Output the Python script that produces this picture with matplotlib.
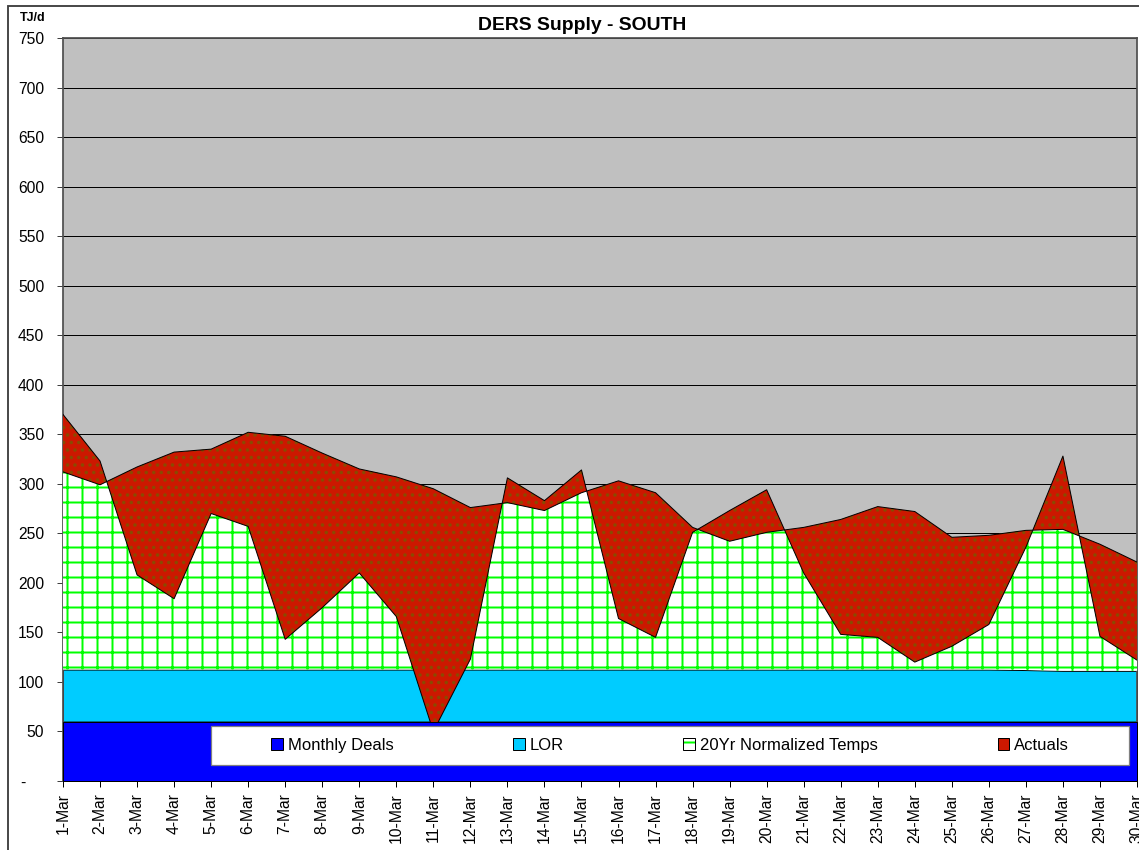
import matplotlib
matplotlib.use("Agg")
import matplotlib.pyplot as plt
from matplotlib.patches import Patch, Rectangle
from matplotlib.legend_handler import HandlerTuple

plt.rcParams['font.family'] = ['Liberation Sans', 'DejaVu Sans']
plt.rcParams['hatch.linewidth'] = 1.6

days = ["1-Mar", "2-Mar", "3-Mar", "4-Mar", "5-Mar", "6-Mar", "7-Mar", "8-Mar", "9-Mar", "10-Mar",
        "11-Mar", "12-Mar", "13-Mar", "14-Mar", "15-Mar", "16-Mar", "17-Mar", "18-Mar", "19-Mar", "20-Mar",
        "21-Mar", "22-Mar", "23-Mar", "24-Mar", "25-Mar", "26-Mar", "27-Mar", "28-Mar", "29-Mar", "30-Mar"]
monthly_deals = [60, 60, 60, 60, 60, 60, 60, 60, 60, 60,
                 60, 60, 60, 60, 60, 60, 60, 60, 60, 60,
                 60, 60, 60, 60, 60, 60, 60, 60, 60, 60]
lor = [52.5, 52.5, 52.5, 52.5, 52.5, 52.5, 52.5, 52.5, 52.5, 52.5,
       52.5, 52.5, 52.5, 52.5, 52.5, 52.5, 52.5, 52.5, 52.5, 52.5,
       52.5, 52.5, 52.5, 52.5, 52.5, 52.5, 52, 51.2, 51.2, 51.2]
normalized = [312, 299, 317, 332, 335, 352, 348, 331, 315, 307,
              295, 276, 281, 273, 291, 303, 291, 256, 242, 251,
              256, 264, 277, 272, 246, 248, 253, 254, 239, 221]
actuals = [370, 323, 208, 184, 270, 257, 143, 175, 210, 166,
           50, 123, 306, 283, 314, 164, 145, 251, 273, 294,
           210, 148, 145, 120, 136, 158, 236, 328, 146, 122]

x = list(range(len(days)))
lor_top = [d + l for d, l in zip(monthly_deals, lor)]

dpi = 90
fig = plt.figure(figsize=(1139 / dpi, 850 / dpi), dpi=dpi)
ax = fig.add_axes([63 / 1139, 69 / 850, 1074 / 1139, 743 / 850])
ax.set_facecolor('#C0C0C0')

ax.fill_between(x, 0, monthly_deals, facecolor='#0000FF', edgecolor='black', linewidth=0.8, zorder=5)
ax.fill_between(x, monthly_deals, lor_top, facecolor='#00CCFF', edgecolor='black', linewidth=0.8, zorder=2)
ax.fill_between(x, lor_top, normalized, facecolor='white', edgecolor='#00FF00', hatch='+',
                linewidth=0, zorder=3)
ax.fill_between(x, normalized, actuals, facecolor='#CC1800', edgecolor='#8A4A00', hatch='..',
                linewidth=0, zorder=4)
ax.plot(x, normalized, color='black', linewidth=0.8, zorder=4.5)
ax.plot(x, actuals, color='black', linewidth=0.8, zorder=4.5)

ax.set_xlim(0, len(days) - 1)
ax.set_ylim(0, 750)
ax.set_xticks(x)
ax.set_xticklabels(days, rotation=90, fontsize=12.5)
yt = list(range(0, 751, 50))
ax.set_yticks(yt)
ax.set_yticklabels(["-    "] + [str(v) for v in yt[1:]], fontsize=12.5)
ax.tick_params(axis='y', length=5, pad=10, color='#404040')
ax.tick_params(axis='x', length=5, pad=5, color='black')
ax.yaxis.grid(True, color='black', linewidth=0.8)
ax.set_axisbelow(True)
for side in ['left', 'top', 'right']:
    ax.spines[side].set_color('#505050')
    ax.spines[side].set_linewidth(1.4)
ax.spines['bottom'].set_color('black')

# legend box
ax.add_patch(Rectangle((0.1378, 0.0215), 0.8548, 0.0525, transform=ax.transAxes,
                       facecolor='white', edgecolor='#808080', linewidth=1, zorder=6))
h_deals = Patch(facecolor='#0000FF', edgecolor='black', linewidth=0.8)
h_lor = Patch(facecolor='#00CCFF', edgecolor='black', linewidth=0.8)
h_norm = (Patch(facecolor='white', edgecolor='#00FF00', hatch='+', linewidth=0),
          Patch(fill=False, edgecolor='black', linewidth=0.8))
h_act = Patch(facecolor='#CC1800', edgecolor='black', linewidth=0.8)
leg = ax.legend([h_deals, h_lor, h_norm, h_act],
                ["Monthly Deals", "LOR", "20Yr Normalized Temps", "Actuals"],
                handler_map={tuple: HandlerTuple(ndivide=1, pad=0)},
                loc='center', bbox_to_anchor=(0.5652, 0.0478), ncol=4, frameon=False,
                fontsize=13.3, columnspacing=7.2, handlelength=0.7, handleheight=0.7,
                handletextpad=0.3, borderpad=0, borderaxespad=0)
leg.set_zorder(7)

fig.text(582 / 1139, 1 - 25 / 850, "DERS Supply - SOUTH", ha='center', va='center',
         fontsize=15.5, fontweight='bold')
fig.text(20 / 1139, 1 - 18 / 850, "TJ/d", ha='left', va='center', fontsize=10, fontweight='bold')

# chart area border
fig.patches.append(Rectangle((8 / 1139, -0.1), 1.2, 1.1 - 6 / 850, transform=fig.transFigure,
                             fill=False, edgecolor='#404040', linewidth=1.5))

fig.savefig("out.png", dpi=dpi)
